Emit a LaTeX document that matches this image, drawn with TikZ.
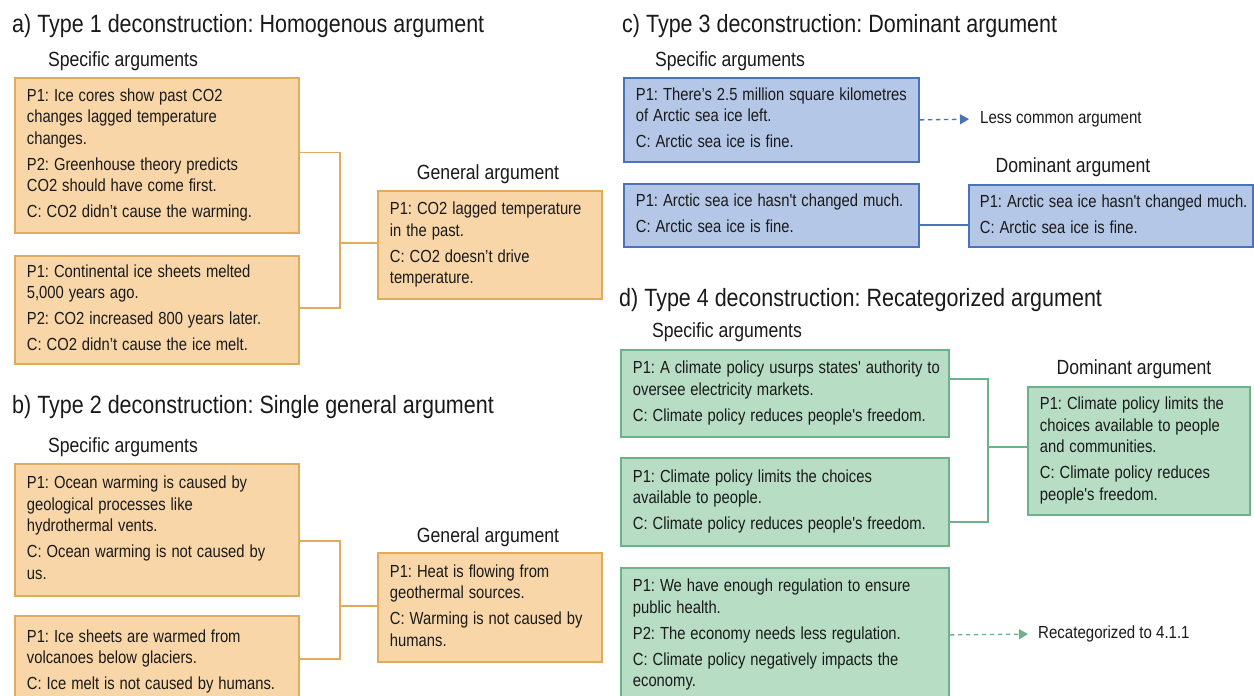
\documentclass[tikz,border=0pt]{standalone}
\usepackage{fontspec}
\usepackage{graphicx}
\newfontfamily\af{Liberation Sans}
\frenchspacing
\usetikzlibrary{arrows.meta}
\definecolor{ofill}{HTML}{F8D6A8}
\definecolor{oline}{HTML}{E2AB5B}
\definecolor{bfill}{HTML}{B4C7E7}
\definecolor{bline}{HTML}{4A73BA}
\definecolor{gfill}{HTML}{B7DDC5}
\definecolor{gline}{HTML}{6DB389}
\definecolor{txt}{HTML}{1A1A1A}
\newcommand\argtext[1]{\scalebox{0.845}[1]{\begin{tabular}{@{}l@{}}#1\end{tabular}}}
\newcommand\narrow[1]{\scalebox{0.86}[1]{#1}}
\tikzset{
  argbox/.style={draw, line width=1.8pt, anchor=north west, align=left, inner xsep=12pt, inner ysep=0pt, text=txt, font=\af\frenchspacing\fontsize{17.5}{21.5}\selectfont},
  obox/.style={argbox, draw=oline, fill=ofill},
  bbox/.style={argbox, draw=bline, fill=bfill},
  gbox/.style={argbox, draw=gline, fill=gfill},
  title/.style={anchor=west, inner sep=0pt, text=txt, font=\af\frenchspacing\fontsize{25}{28}\selectfont},
  head/.style={inner sep=0pt, text=txt, font=\af\frenchspacing\fontsize{20.5}{24}\selectfont},
  lbl/.style={anchor=west, inner sep=0pt, text=txt, font=\af\frenchspacing\fontsize{17.5}{21.5}\selectfont},
  oconn/.style={draw=oline, line width=1.6pt},
  bconn/.style={draw=bline, line width=1.6pt},
  gconn/.style={draw=gline, line width=1.6pt},
  bdash/.style={draw=bline, line width=1.3pt, dash pattern=on 4.5pt off 3.5pt, -{Triangle[width=10pt,length=9pt]}, shorten >=11pt},
  gdash/.style={draw=gline, line width=1.3pt, dash pattern=on 4.5pt off 3.5pt, -{Triangle[width=10pt,length=9pt]}, shorten >=10pt},
}
\begin{document}
\begin{tikzpicture}[x=1pt,y=-1pt]
\clip (0,0) rectangle (1254,696);
\fill[white] (0,0) rectangle (1254,696);

% ---------- panel a ----------
\node[title] (ta) at (12,26) {\narrow{a) Type 1 deconstruction: Homogenous argument}};
\node[head] (sa) at (123,61) {\narrow{Specific arguments}};
\node[head] (ha) at (488,174) {\narrow{General argument}};
\node[obox, minimum width=284pt, minimum height=155pt, text width=260pt] (a1) at (14,77)
 {\argtext{P1: Ice cores show past CO2\\ changes lagged temperature\\ changes.\\[4.5pt]
  P2: Greenhouse theory predicts\\ CO2 should have come first.\\[4.5pt]
  C: CO2 didn’t cause the warming.}};
\node[obox, minimum width=284pt, minimum height=108pt, text width=260pt] (a2) at (14,255)
 {\argtext{P1: Continental ice sheets melted\\ 5,000 years ago.\\[4.5pt]
  P2: CO2 increased 800 years later.\\[4.5pt]
  C: CO2 didn’t cause the ice melt.}};
\node[obox, minimum width=224pt, minimum height=108pt, text width=200pt] (ga) at (377,190)
 {\argtext{P1: CO2 lagged temperature\\ in the past.\\[4.5pt]
  C: CO2 doesn’t drive\\ temperature.}};
\coordinate (ja) at (340,243);
\draw[oconn] ([yshift=3pt]a1.east) -| (ja) |- ([yshift=2pt]a2.east);
\draw[oconn] (ja) -- (ja -| ga.west);

% ---------- panel b ----------
\node[title] (tb) at (12,407) {\narrow{b) Type 2 deconstruction: Single general argument}};
\node[head] (sb) at (123,447) {\narrow{Specific arguments}};
\node[head] (hb) at (488,537) {\narrow{General argument}};
\node[obox, minimum width=284pt, minimum height=132pt, text width=260pt] (b1) at (14,463)
 {\argtext{P1: Ocean warming is caused by\\ geological processes like\\ hydrothermal vents.\\[4.5pt]
  C: Ocean warming is not caused by\\ us.}};
\node[obox, minimum width=284pt, minimum height=92pt, text width=260pt] (b2) at (14,615)
 {\argtext{P1: Ice sheets are warmed from\\ volcanoes below glaciers.\\[4.5pt]
  C: Ice melt is not caused by humans.}};
\node[obox, minimum width=224pt, minimum height=109pt, text width=200pt] (gb) at (377,552)
 {\argtext{P1: Heat is flowing from\\ geothermal sources.\\[4.5pt]
  C: Warming is not caused by\\ humans.}};
\coordinate (jb) at (340,606);
\draw[oconn] ([yshift=-11pt]b1.east) -| (jb) |- ([yshift=3pt]b2.east);
\draw[oconn] (jb) -- (jb -| gb.west);

% ---------- panel c ----------
\node[title] (tc) at (622,26) {\narrow{c) Type 3 deconstruction: Dominant argument}};
\node[head] (sc) at (730,61) {\narrow{Specific arguments}};
\node[head] (hc) at (1073,167) {\narrow{Dominant argument}};
\node[bbox, minimum width=295pt, minimum height=84pt, text width=271pt] (c1) at (623,77)
 {\argtext{P1: There’s 2.5 million square kilometres\\ of Arctic sea ice left.\\[4.5pt]
  C: Arctic sea ice is fine.}};
\node[bbox, minimum width=295pt, minimum height=63pt, text width=271pt] (c2) at (623,183)
 {\argtext{P1: Arctic sea ice hasn't changed much.\\[4.5pt]
  C: Arctic sea ice is fine.}};
\node[bbox, minimum width=284pt, minimum height=62pt, text width=262pt, inner xsep=11pt] (c3) at (968,184)
 {\argtext{P1: Arctic sea ice hasn't changed much.\\[4.5pt]
  C: Arctic sea ice is fine.}};
\node[lbl] (lc) at (980,119) {\narrow{Less common argument}};
\draw[bdash] (c1.east) -- (lc.west);
\draw[bconn] ([yshift=-9.5pt]c2.east) -- ([yshift=-9.5pt]c2.east -| c3.west);

% ---------- panel d ----------
\node[title] (td) at (619,300) {\narrow{d) Type 4 deconstruction: Recategorized argument}};
\node[head] (sd) at (727,332) {\narrow{Specific arguments}};
\node[head] (hd) at (1134,369) {\narrow{Dominant argument}};
\node[gbox, minimum width=328pt, minimum height=87pt, text width=304pt] (d1) at (620,349)
 {\argtext{P1: A climate policy usurps states' authority to\\ oversee electricity markets.\\[4.5pt]
  C: Climate policy reduces people's freedom.}};
\node[gbox, minimum width=328pt, minimum height=88pt, text width=304pt] (d2) at (620,457)
 {\argtext{P1: Climate policy limits the choices\\ available to people.\\[4.5pt]
  C: Climate policy reduces people's freedom.}};
\node[gbox, minimum width=328pt, minimum height=134pt, text width=304pt] (d3) at (620,567)
 {\argtext{P1: We have enough regulation to ensure\\ public health.\\[4.5pt]
  P2: The economy needs less regulation.\\[4.5pt]
  C: Climate policy negatively impacts the\\ economy.}};
\node[gbox, minimum width=222pt, minimum height=128pt, text width=198pt] (d4) at (1027,386)
 {\argtext{P1: Climate policy limits the\\ choices available to people\\ and communities.\\[4.5pt]
  C: Climate policy reduces\\ people's freedom.}};
\coordinate (jd) at (988,447);
\draw[gconn] ([yshift=14.5pt]d1.east) -| (jd) |- ([yshift=-20pt]d2.east);
\draw[gconn] (jd) -- (jd -| d4.west);
\node[lbl] (rd) at (1038,634) {\narrow{Recategorized to 4.1.1}};
\draw[gdash] (d3.east) -- (rd.west);
\end{tikzpicture}
\end{document}
